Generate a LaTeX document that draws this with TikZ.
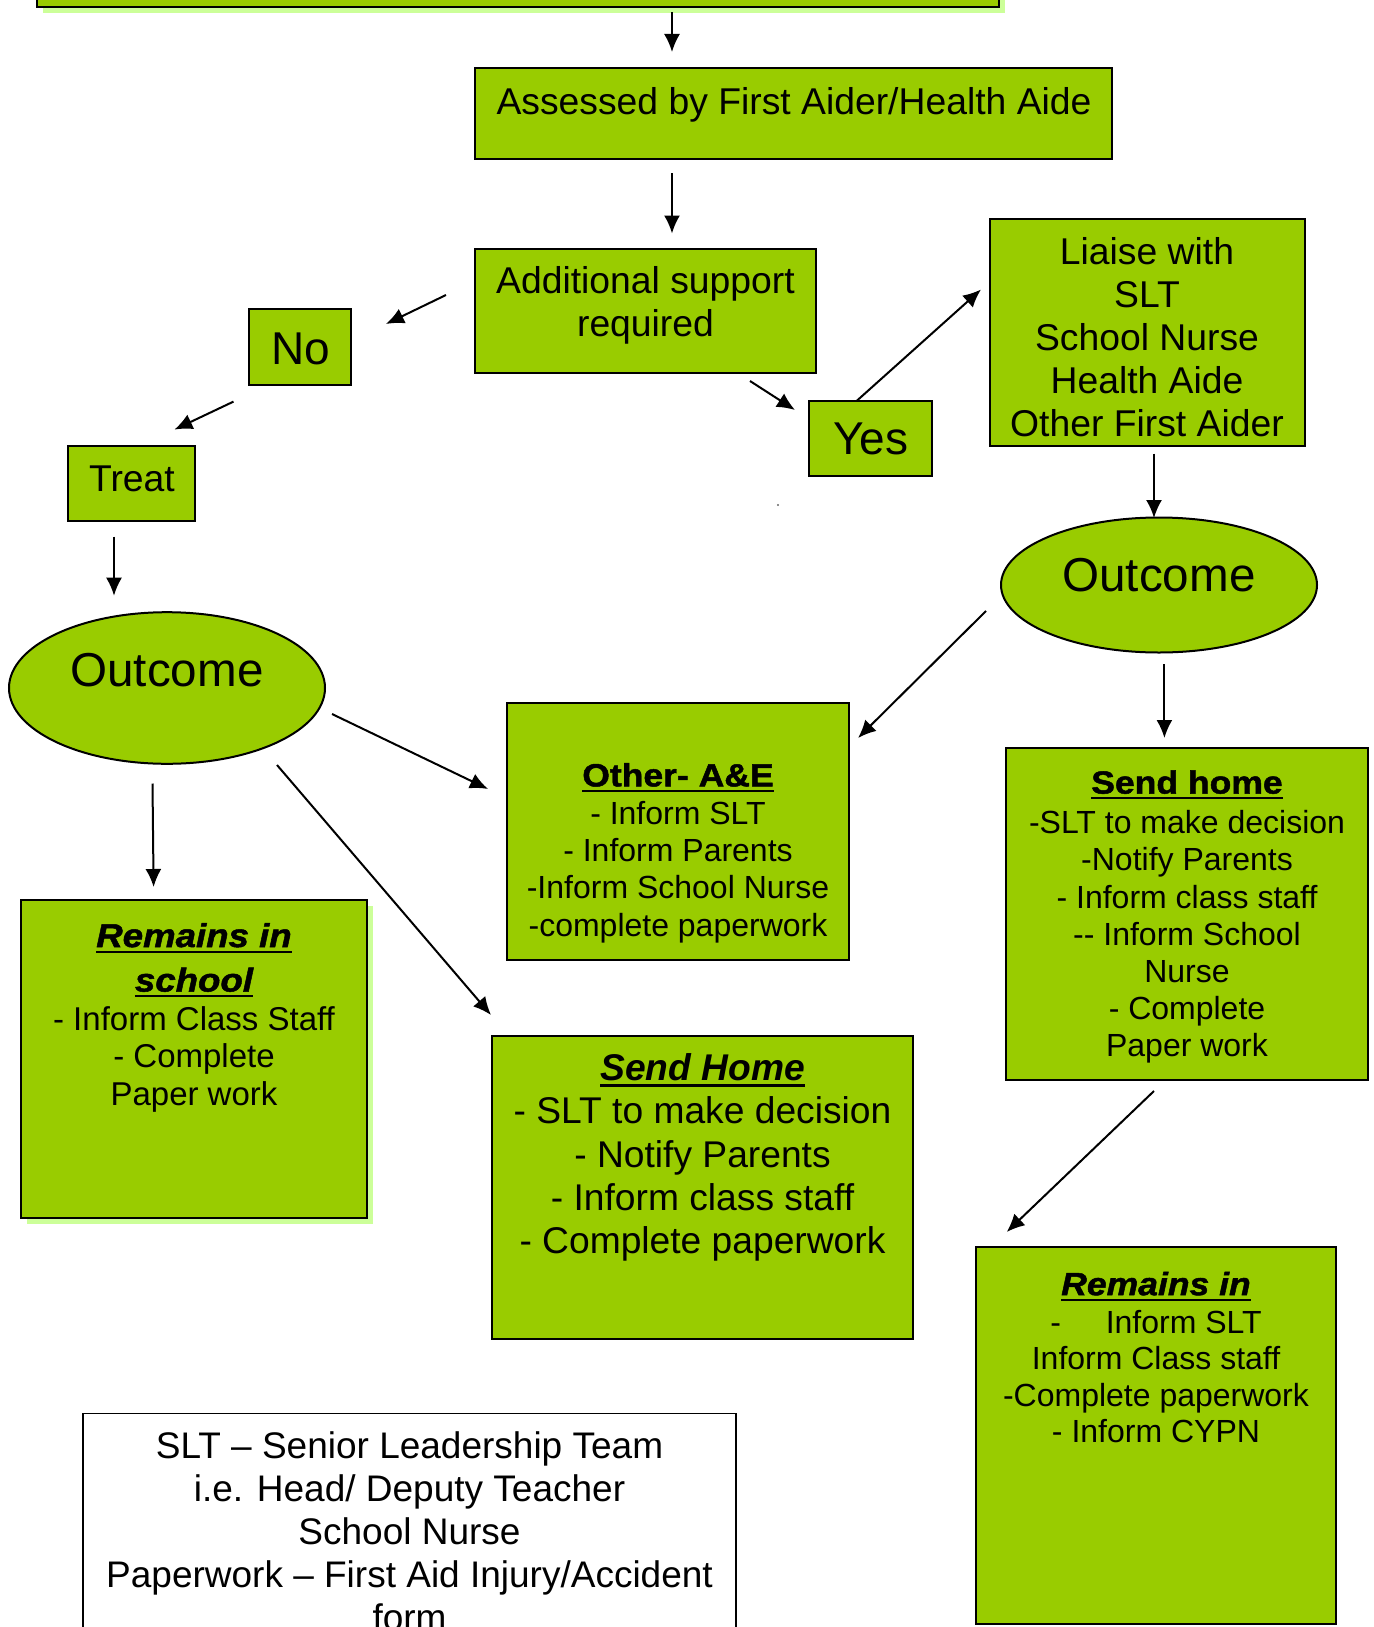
\documentclass[tikz,border=0pt]{standalone}
\usepackage{fontspec}
\setmainfont{Liberation Sans}
\newfontfamily\blackfont{Liberation Sans Bold}[ItalicFont={Liberation Sans Bold Italic},FakeBold=1.5,FakeStretch=1.11]
\newfontfamily\bifont{Liberation Sans Bold Italic}
\usetikzlibrary{arrows.meta,shapes.geometric,shadows}
\definecolor{boxgreen}{HTML}{99CC00}
\definecolor{shadowgreen}{HTML}{CCFF99}
\newcommand{\myul}[1]{\vtop{\hbox{#1}\kern1.6pt\hrule height 1.1pt}}
\begin{document}
\begin{tikzpicture}[x=0.5pt,y=-0.5pt,
  gbox/.style={draw=black, line width=1pt, fill=boxgreen, inner sep=0pt, outer sep=0pt},
  sbox/.style={gbox, drop shadow={shadow xshift=3pt, shadow yshift=-3pt, fill=shadowgreen, opacity=1}},
  wbox/.style={draw=black, line width=0.8pt, fill=white, inner sep=0pt, outer sep=0pt},
  gell/.style={ellipse, draw=black, line width=1pt, fill=boxgreen, inner sep=0pt, outer sep=0pt},
  arr/.style={-{Latex[length=9pt,width=8pt]}, line width=1pt},
  txt/.style={align=center, inner sep=0pt, text=black},
  fmain/.style={font=\fontsize{18.65}{21.5}\selectfont},
  fbig/.style={font=\fontsize{23}{26}\selectfont},
  fout/.style={font=\fontsize{23.8}{27}\selectfont},
  fsmall/.style={font=\fontsize{16}{18.6}\selectfont},
]
\useasboundingbox (0,0) rectangle (1373,1627);

% boxes
\node[sbox, minimum width=481pt, minimum height=20pt] (bar) at (518,-13) {};
\node[gbox, minimum width=318.5pt, minimum height=45.25pt] (assessed) at (793.5,113.75) {};
\node[gbox, minimum width=170.5pt, minimum height=61.75pt] (additional) at (645.5,310.75) {};
\node[gbox, minimum width=51pt, minimum height=38pt] (no) at (300,347) {};
\node[gbox, minimum width=63.75pt, minimum height=37.5pt] (treat) at (131.25,483.5) {};
\node[gell, minimum width=158pt, minimum height=75.8pt] (outL) at (167,688) {};
\node[sbox, minimum width=173.3pt, minimum height=158.75pt] (remainsL) at (194.1,1058.75) {};
\node[gbox, minimum width=171.25pt, minimum height=128.7pt] (otherAE) at (677.75,831.3) {};
\node[gbox, minimum width=210.5pt, minimum height=151.55pt] (sendM) at (702.5,1187.25) {};
\node[gbox, minimum width=61.75pt, minimum height=37.7pt] (yes) at (870.25,438.3) {};
\node[gbox, minimum width=157.25pt, minimum height=113.5pt] (liaise) at (1147.25,332.5) {};
\node[gell, minimum width=158pt, minimum height=67.5pt] (outR) at (1159,585) {};
\node[gbox, minimum width=181.2pt, minimum height=166pt] (sendR) at (1186.8,914) {};
\node[gbox, minimum width=180pt, minimum height=188.3pt] (remainsR) at (1155.55,1435.7) {};
\node[wbox, minimum width=326.5pt, minimum height=113.25pt] (legend) at (409.5,1526.75) {};

% texts
\node[txt, fmain] (assessedT) at (794,104.7) {Assessed by First Aider/Health Aide};
\node[txt, fmain] (additionalT) at (645.5,305.5) {Additional support\\required};
\node[txt, fbig] (noT) at (301,349) {No};
\node[txt, fbig] (yesT) at (870.7,439) {Yes};
\node[txt, fmain] (treatT) at (132,479) {Treat};
\node[txt, fmain] (liaiseT) at (1147,337) {Liaise with\\SLT\\School Nurse\\Health Aide\\Other First Aider};
\node[txt, fout] (outLT) at (167,670) {Outcome};
\node[txt, fout] (outRT) at (1159,575) {Outcome};
\node[txt, font=\fontsize{16.5}{18.75}\selectfont] (remainsLT) at (194,1017.5)
  {{\blackfont\itshape\myul{Remains in}}\\[3.5pt]{\blackfont\itshape\myul{school}}\\[0.5pt]- Inform Class Staff\\- Complete\\Paper work};
\node[txt, fsmall] (otherAET) at (678,853)
  {{\blackfont\myul{Other- A\&E}}\\[0.5pt]- Inform SLT\\- Inform Parents\\-Inform School Nurse\\-complete paperwork};
\node[txt, font=\fontsize{18.6}{21.6}\selectfont] (sendMT) at (702.5,1157.5)
  {{\bifont\myul{Send Home}}\\- SLT to make decision\\- Notify Parents\\- Inform class staff\\- Complete paperwork};
\node[txt, fsmall] (sendRT) at (1187,917)
  {{\blackfont\myul{Send home}}\\[1.5pt]-SLT to make decision\\-Notify Parents\\- Inform class staff\\-{}- Inform School\\Nurse\\- Complete\\Paper work};
\node[txt, font=\fontsize{16}{18.2}\selectfont] (remainsRT) at (1156,1357.5)
  {{\blackfont\itshape\myul{Remains in}}\\[1pt]-\hspace{1.4em}Inform SLT\\Inform Class staff\\-Complete paperwork\\- Inform CYPN};
\node[txt, font=\fontsize{18.5}{21.5}\selectfont] (legendT) at (409.5,1531)
  {SLT – Senior Leadership Team\\i.e. Head/ Deputy Teacher\\School Nurse\\Paperwork – First Aid Injury/Accident\\form};

% connector end points
\coordinate (a1s) at (672,12.5);   \coordinate (a1e) at (672,52);
\coordinate (a2s) at (672,173);    \coordinate (a2e) at (672,233.5);
\coordinate (a3s) at (446,295);    \coordinate (a3e) at (386,324);
\coordinate (a4s) at (233.5,401.6);\coordinate (a4e) at (174.4,429.6);
\coordinate (a5s) at (114,536.5);  \coordinate (a5e) at (114,595.7);
\coordinate (a6s) at (152.5,783.5);\coordinate (a6e) at (153.6,887);
\coordinate (a7s) at (332,714);    \coordinate (a7e) at (488,789);
\coordinate (a8s) at (277,765);    \coordinate (a8e) at (491,1015);
\coordinate (a9s) at (750,381);    \coordinate (a9e) at (795,410);
\coordinate (a10s) at (857,400.6); \coordinate (a10e) at (981,289.5);
\coordinate (a11s) at (1154,453.5);\coordinate (a11e) at (1154,518);
\coordinate (a12s) at (986,611);   \coordinate (a12e) at (858,738);
\coordinate (a13s) at (1164.4,664);\coordinate (a13e) at (1164.4,738);
\coordinate (a14s) at (1154,1091); \coordinate (a14e) at (1006.7,1232);

\draw[arr] (a1s) -- (a1e);
\draw[arr] (a2s) -- (a2e);
\draw[arr] (a3s) -- (a3e);
\draw[arr] (a4s) -- (a4e);
\draw[arr] (a5s) -- (a5e);
\draw[arr] (a6s) -- (a6e);
\draw[arr] (a7s) -- (a7e);
\draw[arr] (a8s) -- (a8e);
\draw[arr] (a9s) -- (a9e);
\draw[arr] (a10s) -- (a10e);
\draw[arr] (a11s) -- (a11e);
\draw[arr] (a12s) -- (a12e);
\draw[arr] (a13s) -- (a13e);
\draw[arr] (a14s) -- (a14e);

% stray dot
\fill[black!60] (778,505) circle (0.6pt);
\end{tikzpicture}
\end{document}
